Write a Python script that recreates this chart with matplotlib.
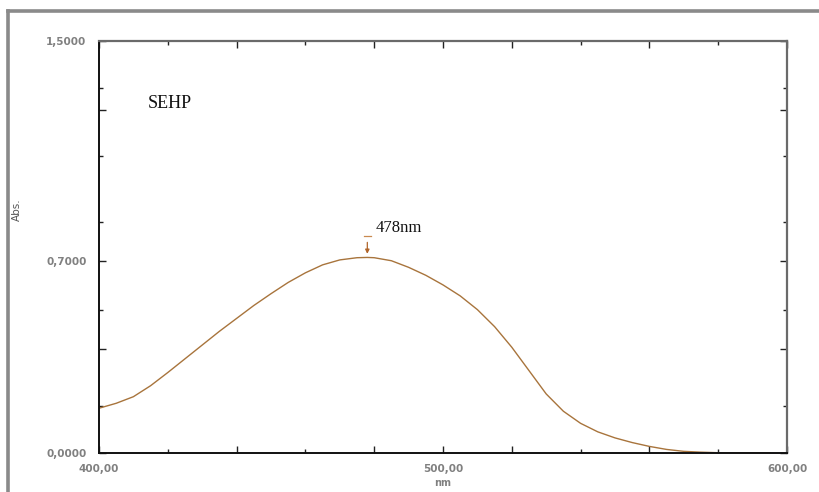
import matplotlib
matplotlib.use("Agg")
import matplotlib.pyplot as plt
from matplotlib.lines import Line2D
from matplotlib.ticker import FixedLocator, FuncFormatter

# absorbance spectrum, read every 5 nm
wavelength = [400, 405, 410, 415, 420, 425, 430, 435, 440, 445, 450, 455, 460,
              465, 470, 475, 478, 480, 485, 490, 495, 500, 505, 510, 515, 520,
              525, 530, 535, 540, 545, 550, 555, 560, 565, 570, 575, 580, 585,
              590, 595]
absorbance = [0.163, 0.181, 0.205, 0.245, 0.293, 0.343, 0.393, 0.443, 0.490,
              0.537, 0.580, 0.621, 0.656, 0.685, 0.703, 0.711, 0.712, 0.711,
              0.700, 0.676, 0.647, 0.612, 0.572, 0.522, 0.460, 0.385, 0.300,
              0.215, 0.152, 0.108, 0.077, 0.055, 0.038, 0.024, 0.013, 0.006,
              0.003, 0.001, 0.000, 0.000, 0.000]

peak_nm = 478
peak_abs = 0.712
sample_name = "SEHP"

x_labels = {400: "400,00", 500: "500,00", 600: "600,00"}
y_labels = {0.0: "0,0000", 0.7: "0,7000", 1.5: "1,5000"}

W, H = 819, 492
fig = plt.figure(figsize=(W / 100, H / 100), dpi=100)
fig.patch.set_facecolor("white")

# grey window border
frame_kw = dict(transform=fig.transFigure, color="#8a8a8a", lw=2.6)
fig.add_artist(Line2D([8 / W, 8 / W], [0, 1 - 11 / H], **frame_kw))
fig.add_artist(Line2D([8 / W, 1], [1 - 11 / H, 1 - 11 / H], **frame_kw))

ax = fig.add_axes([99 / W, 39 / H, 688 / W, 412 / H])
ax.plot(wavelength, absorbance, color="#a8743c", lw=1.0)

ax.set_xlim(400, 600)
ax.set_ylim(0, 1.5)

for side in ["left", "bottom"]:
    ax.spines[side].set_color("#111111")
    ax.spines[side].set_linewidth(1.4)
for side in ["top", "right"]:
    ax.spines[side].set_color("#6a6a6a")
    ax.spines[side].set_linewidth(1.6)

# x ticks: long/short alternating every 20 nm
ax.xaxis.set_major_locator(FixedLocator([400, 440, 480, 500, 520, 560, 600]))
ax.xaxis.set_minor_locator(FixedLocator([420, 460, 540, 580]))
ax.xaxis.set_major_formatter(FuncFormatter(lambda v, p: x_labels.get(int(round(v)), "")))
ax.yaxis.set_major_locator(FixedLocator([0.0, 0.38, 0.7, 1.25, 1.5]))
ax.yaxis.set_minor_locator(FixedLocator([0.17, 0.52, 0.84, 1.08, 1.33]))
ax.yaxis.set_major_formatter(FuncFormatter(lambda v, p: y_labels.get(round(v, 2), "")))

ax.tick_params(which="both", direction="in", top=True, right=True,
               color="#222222", width=1.0)
ax.tick_params(which="major", length=5)
ax.tick_params(which="minor", length=3)
ax.tick_params(axis="x", which="major", pad=8)
ax.tick_params(axis="y", which="major", pad=9)
for lab in ax.get_xticklabels() + ax.get_yticklabels():
    lab.set_fontsize(7.5)
    lab.set_fontweight("bold")
    lab.set_color("#808080")

ax.set_xlabel("nm", fontsize=7, fontweight="bold", color="#808080", labelpad=3)
fig.text(17 / W, 1 - 210 / H, "Abs.", rotation=90, fontsize=7.5,
         color="#555555", ha="center", va="center")

ax.text(414.2, 1.274, sample_name, family="Liberation Serif", fontsize=13,
        color="#111111", va="center", ha="left")

# peak marker
ax.annotate("", xy=(peak_nm, peak_abs + 0.003), xytext=(peak_nm, peak_abs + 0.065),
            arrowprops=dict(arrowstyle="-|>", color="#b0652a", lw=0.9,
                            mutation_scale=6))
ax.plot([peak_nm - 1.0, peak_nm + 1.0], [0.79, 0.79], color="#c98a50", lw=0.9)
ax.text(peak_nm + 2.5, 0.819, f"{peak_nm}nm", family="Liberation Serif",
        fontsize=12, color="#111111", va="center", ha="left")

fig.savefig("out.png", dpi=100)
